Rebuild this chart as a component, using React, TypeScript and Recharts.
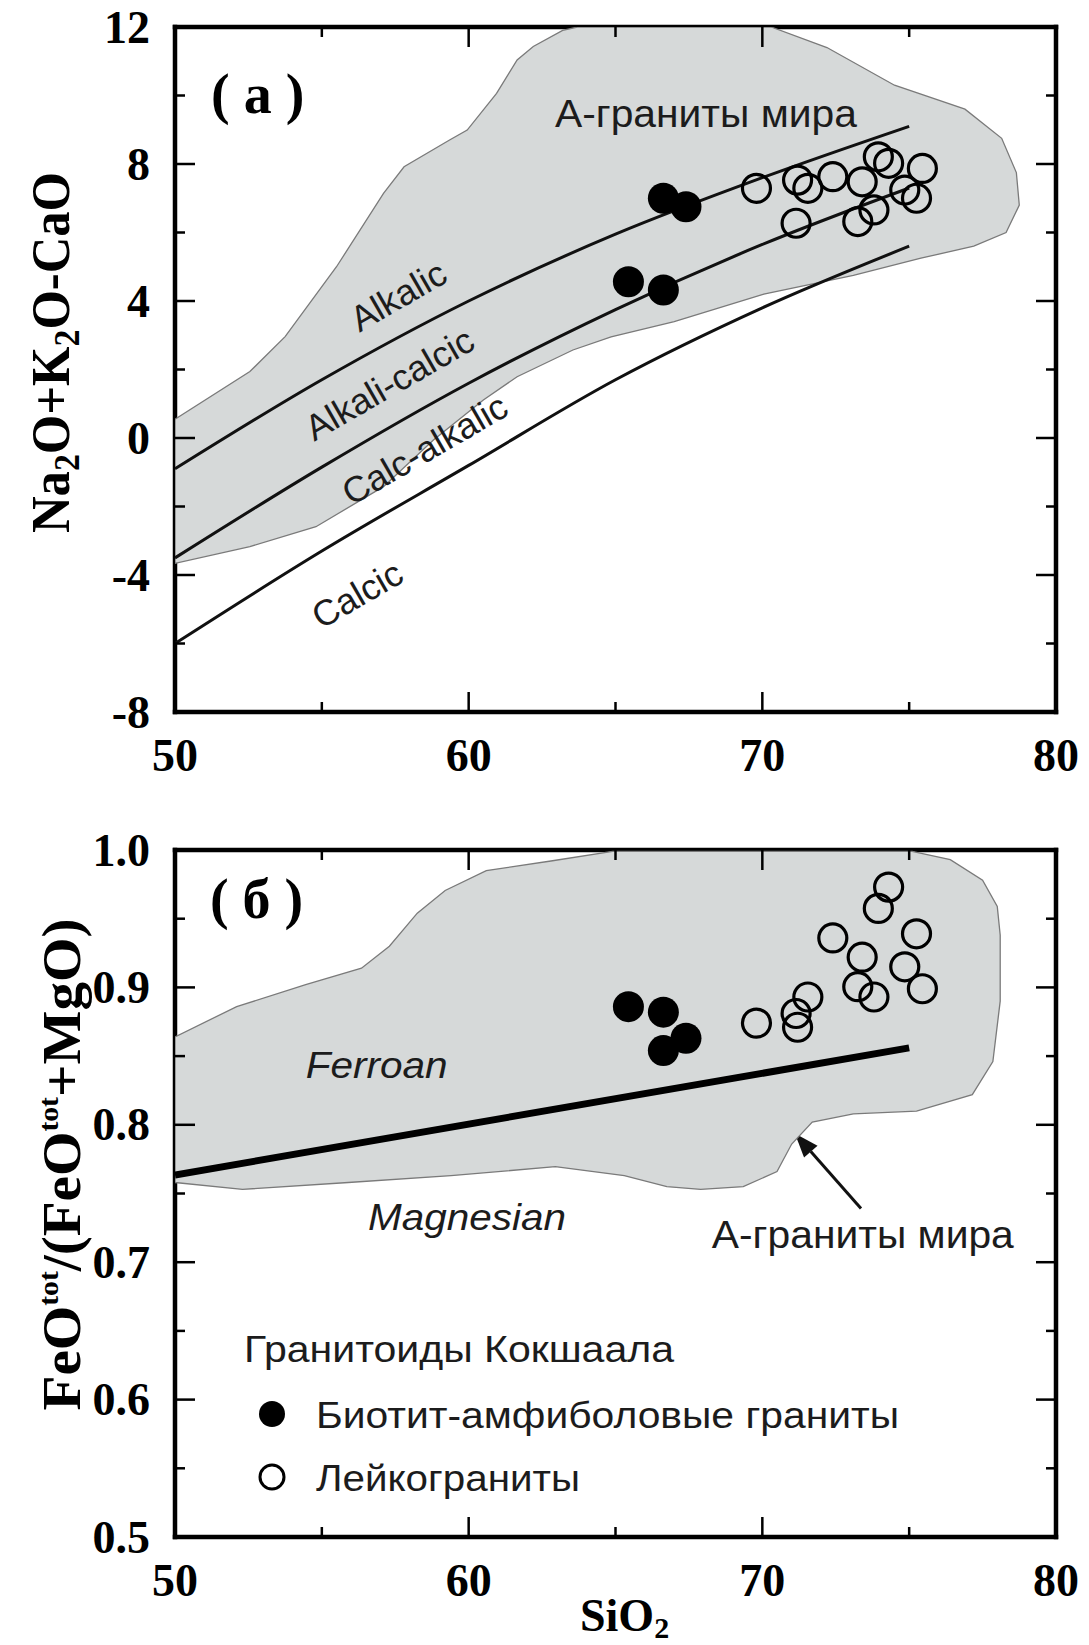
import React from "react";
import { ScatterChart, Scatter, XAxis, YAxis, ReferenceDot, ReferenceLine, Legend, Curve } from "recharts";

const serif = "'Liberation Serif', 'Times New Roman', serif";
const sans = "'Liberation Sans', Arial, sans-serif";
const ink = "#1c1c1c";
const fieldFill = "#d6d9d9";
const fieldEdge = "#7a7a7a";

// axes
const siTicks = [50, 55, 60, 65, 70, 75, 80];
const siMajor = [50, 60, 70, 80];
const maliTicks = [-8, -6, -4, -2, 0, 2, 4, 6, 8, 10, 12];
const maliMajor = [-8, -4, 0, 4, 8, 12];
const feTicks = [0.5, 0.55, 0.6, 0.65, 0.7, 0.75, 0.8, 0.85, 0.9, 0.95, 1.0];
const feMajor = [0.5, 0.6, 0.7, 0.8, 0.9, 1.0];

// MALI boundaries
const boundarySiO2 = [50, 55, 60, 65, 70, 75];
const alkalicLine = [-0.9, 1.7, 4.0, 5.95, 7.6, 9.1];
const alkaliCalcicLine = [-3.5, -0.85, 1.6, 3.75, 5.65, 7.3];
const calcAlkalicLine = [-6.0, -3.3, -0.8, 1.7, 3.8, 5.6];

// ferroan / magnesian boundary
const ferroanSiO2 = [50, 75];
const ferroanLine = [0.7635, 0.856];

// A-type granite field (outline)
const fieldTopSiO2 = [50, 52.55, 53.75, 55.5, 57.1, 57.8, 59.35, 59.95, 60.95, 61.65, 62.2, 63.2, 63.7, 70.3, 72.2, 74.5, 76.9, 78.15, 78.65, 78.75, 78.3, 77.2, 75.4, 73.1, 70.05, 67.0, 64.85, 63.55, 61.65, 60.5, 58.8, 57.1, 54.8, 52.55, 50];
const fieldTopMali = [0.55, 1.94, 2.96, 5.0, 7.14, 7.92, 8.7, 8.99, 10.06, 11.04, 11.43, 11.9, 12, 12, 11.4, 10.3, 9.6, 8.75, 7.75, 6.8, 6.0, 5.6, 5.25, 4.75, 4.2, 3.4, 2.95, 2.57, 1.79, 1.11, -0.06, -1.42, -2.59, -3.17, -3.66];
const fieldBotSiO2 = [50, 52.1, 54.45, 56.35, 57.3, 58.25, 59.2, 60.6, 62.8, 64.9, 75.1, 76.4, 77.5, 78.0, 78.1, 78.1, 77.85, 77.15, 75.25, 73.1, 71.7, 71.0, 70.5, 69.35, 67.9, 66.75, 65.3, 62.95, 59.4, 55.9, 52.3, 50];
const fieldBotFe = [0.864, 0.886, 0.902, 0.914, 0.93, 0.954, 0.9705, 0.985, 0.992, 0.999, 0.999, 0.993, 0.978, 0.959, 0.938, 0.89, 0.846, 0.822, 0.81, 0.808, 0.802, 0.786, 0.766, 0.755, 0.753, 0.755, 0.763, 0.7695, 0.763, 0.758, 0.753, 0.758];

// samples
const bioName = "Биотит-амфиболовые граниты";
const leucoName = "Лейкограниты";
const bioSiO2 = [65.44, 66.63, 66.63, 67.4];
const bioMali = [4.56, 7.0, 4.32, 6.75];
const bioFe = [0.886, 0.882, 0.854, 0.863];
const leucoSiO2 = [69.8, 71.15, 71.2, 71.55, 72.4, 73.25, 73.4, 73.8, 73.95, 74.3, 74.85, 75.25, 75.45];
const leucoMali = [7.29, 6.27, 7.53, 7.29, 7.63, 6.32, 7.48, 6.66, 8.21, 8.02, 7.24, 7.0, 7.87];
const leucoFe = [0.874, 0.881, 0.871, 0.893, 0.936, 0.9005, 0.922, 0.893, 0.9575, 0.973, 0.915, 0.939, 0.899];

// arrow: tail -> head
const arrowSiO2 = [73.36, 71.11];
const arrowFe = [0.739, 0.7936];

const pts = (xs: number[], ys: number[]) => xs.map((x, i) => ({ x, y: ys[i] }));

const isIn = (arr: number[], v: number) => arr.some((m) => Math.abs(m - v) < 1e-6);

function makeTick(side: string, major: number[], fmt?: (v: number) => string) {
  return (props: any) => {
    const { x, y, payload } = props;
    const v = payload.value;
    const big = isIn(major, v);
    const len = big ? 20 : 10;
    const dx = side === "left" ? len : side === "right" ? -len : 0;
    const dy = side === "top" ? len : side === "bottom" ? -len : 0;
    let label = null;
    if (fmt && big) {
      label = side === "left" ? (
        <text x={x - 25} y={y} dy="0.34em" textAnchor="end" fontFamily={serif} fontWeight="bold" fontSize={46} fill="#000">
          {fmt(v)}
        </text>
      ) : (
        <text x={x} y={y + 59} textAnchor="middle" fontFamily={serif} fontWeight="bold" fontSize={46} fill="#000">
          {fmt(v)}
        </text>
      );
    }
    return (
      <g>
        <line x1={x} y1={y} x2={x + dx} y2={y + dy} stroke="#000" strokeWidth={2.5} />
        {label}
      </g>
    );
  };
}

const noDot = () => <g />;
const filledDot = (p: any) => <circle cx={p.cx} cy={p.cy} r={15.5} fill="#000" />;
const openDot = (p: any) => <circle cx={p.cx} cy={p.cy} r={14} fill="none" stroke="#000" strokeWidth={3.2} />;
const fieldShape = (p: any) => (
  <Curve points={p.points || []} type="linearClosed" fill={fieldFill} stroke={fieldEdge} strokeWidth={1.3} />
);

function note(text: string, o: any) {
  return (p: any) => (
    <text
      x={p.cx}
      y={p.cy}
      fontFamily={o.family || sans}
      fontSize={o.size}
      fontStyle={o.italic ? "italic" : "normal"}
      fontWeight={o.weight || "normal"}
      fill={o.color || ink}
      textAnchor={o.anchor || "start"}
      dominantBaseline={o.rotate ? "central" : "alphabetic"}
      transform={o.rotate ? `rotate(${o.rotate} ${p.cx} ${p.cy})` : undefined}
      textLength={o.len}
      lengthAdjust={o.len ? "spacingAndGlyphs" : undefined}
    >
      {text}
    </text>
  );
}

const arrowShape = (p: any) => {
  const { x1, y1, x2, y2 } = p;
  const a = Math.atan2(y2 - y1, x2 - x1);
  const L = 24;
  const w = 9;
  const bx = x2 - L * Math.cos(a);
  const by = y2 - L * Math.sin(a);
  const nx = -Math.sin(a) * w;
  const ny = Math.cos(a) * w;
  return (
    <g>
      <line x1={x1} y1={y1} x2={bx} y2={by} stroke="#111" strokeWidth={3} />
      <polygon points={`${x2},${y2} ${bx + nx},${by + ny} ${bx - nx},${by - ny}`} fill="#111" />
    </g>
  );
};

const TopYTitle = (props: any) => {
  const vb = props.viewBox || { x: 0, y: 27, height: 685 };
  const cx = vb.x + 69;
  const cy = vb.y + vb.height / 2 - 17;
  return (
    <text transform={`rotate(-90 ${cx} ${cy})`} x={cx} y={cy} textAnchor="middle" fontFamily={serif} fontWeight="bold" fontSize={54} fill="#000" textLength={361} lengthAdjust="spacingAndGlyphs">
      Na<tspan dy={10} fontSize={36}>2</tspan>
      <tspan dy={-10}>O+K</tspan>
      <tspan dy={10} fontSize={36}>2</tspan>
      <tspan dy={-10}>O-CaO</tspan>
    </text>
  );
};

const BotYTitle = (props: any) => {
  const vb = props.viewBox || { x: 0, y: 70, height: 687 };
  const cx = vb.x + 80;
  const cy = vb.y + vb.height / 2 - 29;
  return (
    <text transform={`rotate(-90 ${cx} ${cy})`} x={cx} y={cy} textAnchor="middle" fontFamily={serif} fontWeight="bold" fontSize={54} fill="#000" textLength={492} lengthAdjust="spacingAndGlyphs">
      FeO<tspan dy={-22} fontSize={28}>tot</tspan>
      <tspan dy={22}>/(FeO</tspan>
      <tspan dy={-22} fontSize={28}>tot</tspan>
      <tspan dy={22}>+MgO)</tspan>
    </text>
  );
};

const XTitle = (props: any) => {
  const vb = props.viewBox || { x: 175, y: 757 };
  return (
    <text x={vb.x + 405} y={vb.y + 94} fontFamily={serif} fontWeight="bold" fontSize={46} fill="#000">
      SiO<tspan dy={7} fontSize={30}>2</tspan>
    </text>
  );
};

const LegendBox = (props: any) => {
  const items = (props.payload || []).filter((e: any) => e.type !== "none");
  const lens: Record<string, number> = { [bioName]: 583, [leucoName]: 264 };
  return (
    <svg width={720} height={200} style={{ overflow: "visible" }}>
      <text x={14} y={42} fontFamily={sans} fontSize={36} fill={ink} textLength={430} lengthAdjust="spacingAndGlyphs">
        Гранитоиды Кокшаала
      </text>
      {items.map((e: any, i: number) => {
        const cy = 94 + i * 63;
        const filled = e.value === bioName;
        return (
          <g key={e.value}>
            {filled ? (
              <circle cx={42} cy={cy} r={13} fill="#000" />
            ) : (
              <circle cx={42} cy={cy} r={12} fill="none" stroke="#000" strokeWidth={3} />
            )}
            <text x={86} y={cy + 14} fontFamily={sans} fontSize={36} fill={ink} textLength={lens[e.value]} lengthAdjust="spacingAndGlyphs">
              {e.value}
            </text>
          </g>
        );
      })}
    </svg>
  );
};

const frame = { stroke: "#000", strokeWidth: 4.5, strokeLinecap: "square" as const };

export default function App() {
  return (
    <div style={{ position: "absolute", left: 0, top: 0, width: 1089, height: 1645, background: "#fff" }}>
      <ScatterChart width={1089} height={780} margin={{ top: 0, right: 0, bottom: 0, left: 0 }}>
        <XAxis dataKey="x" type="number" domain={[50, 80]} ticks={siTicks} allowDataOverflow interval={0} height={68} tickSize={0} tickMargin={0} tickLine={false} axisLine={frame} tick={makeTick("bottom", siMajor, (v) => String(v))} />
        <XAxis xAxisId="top" orientation="top" dataKey="x" type="number" domain={[50, 80]} ticks={siTicks} allowDataOverflow interval={0} height={27} tickSize={0} tickMargin={0} tickLine={false} axisLine={frame} tick={makeTick("top", siMajor)} />
        <YAxis dataKey="y" type="number" domain={[-8, 12]} ticks={maliTicks} allowDataOverflow interval={0} width={175} tickSize={0} tickMargin={0} tickLine={false} axisLine={frame} tick={makeTick("left", maliMajor, (v) => String(v))} label={<TopYTitle />} />
        <YAxis yAxisId="right" orientation="right" dataKey="y" type="number" domain={[-8, 12]} ticks={maliTicks} allowDataOverflow interval={0} width={33} tickSize={0} tickMargin={0} tickLine={false} axisLine={frame} tick={makeTick("right", maliMajor)} />

        <Scatter data={pts(fieldTopSiO2, fieldTopMali)} shape={noDot} line={fieldShape} legendType="none" isAnimationActive={false} />
        <Scatter data={pts(boundarySiO2, alkalicLine)} shape={noDot} line={{ stroke: "#111", strokeWidth: 3 }} lineJointType="monotoneX" legendType="none" isAnimationActive={false} />
        <Scatter data={pts(boundarySiO2, alkaliCalcicLine)} shape={noDot} line={{ stroke: "#111", strokeWidth: 3 }} lineJointType="monotoneX" legendType="none" isAnimationActive={false} />
        <Scatter data={pts(boundarySiO2, calcAlkalicLine)} shape={noDot} line={{ stroke: "#111", strokeWidth: 3 }} lineJointType="monotoneX" legendType="none" isAnimationActive={false} />

        <ReferenceDot x={51.23} y={9.49} r={0} ifOverflow="visible" shape={note("( а )", { family: serif, weight: "bold", size: 56, color: "#000" })} />
        <ReferenceDot x={68.08} y={9.08} r={0} ifOverflow="visible" shape={note("А-граниты мира", { size: 38, anchor: "middle", len: 302 })} />
        <ReferenceDot x={57.6} y={4.15} r={0} ifOverflow="visible" shape={note("Alkalic", { size: 36, anchor: "middle", rotate: -30 })} />
        <ReferenceDot x={57.3} y={1.58} r={0} ifOverflow="visible" shape={note("Alkali-calcic", { size: 36, anchor: "middle", rotate: -30 })} />
        <ReferenceDot x={58.5} y={-0.33} r={0} ifOverflow="visible" shape={note("Calc-alkalic", { size: 36, anchor: "middle", rotate: -30 })} />
        <ReferenceDot x={56.2} y={-4.57} r={0} ifOverflow="visible" shape={note("Calcic", { size: 36, anchor: "middle", rotate: -30 })} />

        <Scatter name={bioName} data={pts(bioSiO2, bioMali)} fill="#000" shape={filledDot} isAnimationActive={false} />
        <Scatter name={leucoName} data={pts(leucoSiO2, leucoMali)} fill="none" shape={openDot} isAnimationActive={false} />
      </ScatterChart>

      <ScatterChart width={1089} height={865} margin={{ top: 0, right: 0, bottom: 0, left: 0 }}>
        <XAxis dataKey="x" type="number" domain={[50, 80]} ticks={siTicks} allowDataOverflow interval={0} height={108} tickSize={0} tickMargin={0} tickLine={false} axisLine={frame} tick={makeTick("bottom", siMajor, (v) => String(v))} label={<XTitle />} />
        <XAxis xAxisId="top" orientation="top" dataKey="x" type="number" domain={[50, 80]} ticks={siTicks} allowDataOverflow interval={0} height={70} tickSize={0} tickMargin={0} tickLine={false} axisLine={frame} tick={makeTick("top", siMajor)} />
        <YAxis dataKey="y" type="number" domain={[0.5, 1.0]} ticks={feTicks} allowDataOverflow interval={0} width={175} tickSize={0} tickMargin={0} tickLine={false} axisLine={frame} tick={makeTick("left", feMajor, (v) => v.toFixed(1))} label={<BotYTitle />} />
        <YAxis yAxisId="right" orientation="right" dataKey="y" type="number" domain={[0.5, 1.0]} ticks={feTicks} allowDataOverflow interval={0} width={33} tickSize={0} tickMargin={0} tickLine={false} axisLine={frame} tick={makeTick("right", feMajor)} />

        <Scatter data={pts(fieldBotSiO2, fieldBotFe)} shape={noDot} line={fieldShape} legendType="none" isAnimationActive={false} />
        <Scatter data={pts(ferroanSiO2, ferroanLine)} shape={noDot} line={{ stroke: "#000", strokeWidth: 7 }} lineJointType="linear" legendType="none" isAnimationActive={false} />

        <ReferenceDot x={51.19} y={0.9505} r={0} ifOverflow="visible" shape={note("( б )", { family: serif, weight: "bold", size: 56, color: "#000" })} />
        <ReferenceDot x={54.45} y={0.834} r={0} ifOverflow="visible" shape={note("Ferroan", { size: 37, italic: true, len: 142 })} />
        <ReferenceDot x={56.57} y={0.7234} r={0} ifOverflow="visible" shape={note("Magnesian", { size: 37, italic: true, len: 198 })} />
        <ReferenceDot x={68.28} y={0.7103} r={0} ifOverflow="visible" shape={note("А-граниты мира", { size: 38, len: 302 })} />
        <ReferenceLine
          segment={[
            { x: arrowSiO2[0], y: arrowFe[0] },
            { x: arrowSiO2[1], y: arrowFe[1] },
          ]}
          shape={arrowShape}
        />

        <Scatter name={bioName} data={pts(bioSiO2, bioFe)} fill="#000" shape={filledDot} isAnimationActive={false} />
        <Scatter name={leucoName} data={pts(leucoSiO2, leucoFe)} fill="none" shape={openDot} isAnimationActive={false} />

        <Legend
          content={LegendBox}
          layout="horizontal"
          verticalAlign="middle"
          align="center"
          wrapperStyle={{ position: "absolute", left: 230, top: 540, width: 720, height: 200 }}
        />
      </ScatterChart>
    </div>
  );
}
